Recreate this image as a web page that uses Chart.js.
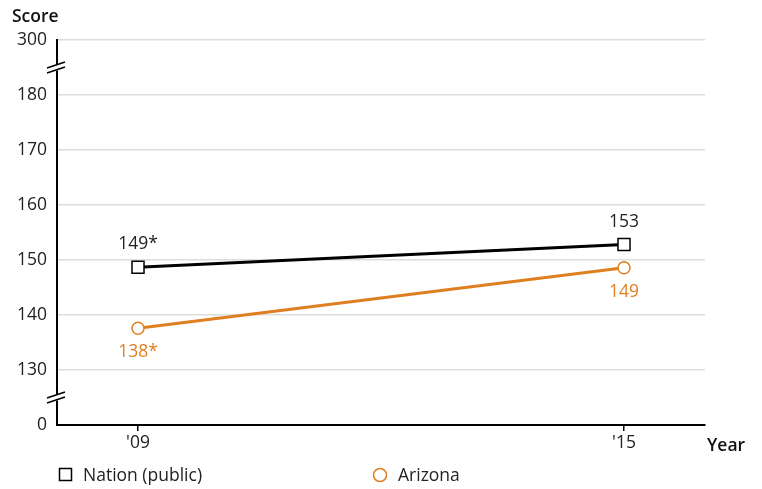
<!DOCTYPE html>
<html>
<head>
<meta charset="utf-8">
<script src="https://cdn.jsdelivr.net/npm/chart.js@4"></script>
<style>
  html, body { margin: 0; padding: 0; background: #fff; }
  canvas { display: block; }
</style>
</head>
<body>
<canvas id="chart" width="762" height="489"></canvas>
<script>
// data
const years = [2009, 2015];
const yearLabels = ["'09", "'15"];
const nationScores = [148.7, 152.8];
const nationLabels = ["149*", "153"];
const arizonaScores = [137.6, 148.6];
const arizonaLabels = ["138*", "149"];
const scoreTicks = [0, 130, 140, 150, 160, 170, 180, 300];

const ORANGE = "#E07F1F";
const TEXT = "#222222";
const FONT = "'Open Sans', sans-serif";
const SIZE = 17.5;

// broken axis: 0 sits one step below 130, 300 one step above 180
function mapScore(v) {
  if (v >= 300) return 190;
  if (v <= 0) return 120;
  return v;
}
const mappedTicks = scoreTicks.map(mapScore);

function toPoints(values) {
  return values.map((v, i) => ({ x: years[i], y: mapScore(v) }));
}

const extras = {
  id: "extras",
  afterDraw(chart) {
    const ctx = chart.ctx;
    const xs = chart.scales.x;
    const ys = chart.scales.y;
    const left = chart.chartArea.left;

    // axis break marks
    [185, 125].forEach(v => {
      const y = ys.getPixelForValue(v);
      ctx.save();
      ctx.fillStyle = "#fff";
      ctx.fillRect(left - 3, y - 3, 6, 6);
      ctx.strokeStyle = "#000";
      ctx.lineWidth = 1.5;
      [-2.5, 2.5].forEach(d => {
        ctx.beginPath();
        ctx.moveTo(left - 10, y + 3 + d);
        ctx.lineTo(left + 8, y - 3 + d);
        ctx.stroke();
      });
      ctx.restore();
    });

    // value labels
    ctx.save();
    ctx.font = SIZE + "px " + FONT;
    ctx.textAlign = "center";
    ctx.textBaseline = "middle";
    years.forEach((yr, i) => {
      const x = xs.getPixelForValue(yr);
      ctx.fillStyle = TEXT;
      ctx.fillText(nationLabels[i], x, ys.getPixelForValue(mapScore(nationScores[i])) - 23);
      ctx.fillStyle = ORANGE;
      ctx.fillText(arizonaLabels[i], x, ys.getPixelForValue(mapScore(arizonaScores[i])) + 24);
    });

    // axis titles
    ctx.fillStyle = "#111";
    ctx.font = "600 " + SIZE + "px " + FONT;
    ctx.textAlign = "left";
    ctx.fillText("Score", 12, 17);
    ctx.fillText("Year", 707, 446);

    // legend
    ctx.font = SIZE + "px " + FONT;
    ctx.fillStyle = TEXT;
    ctx.strokeStyle = "#000";
    ctx.lineWidth = 1.5;
    ctx.strokeRect(59.5, 468.5, 12, 12);
    ctx.fillText("Nation (public)", 83, 476);
    ctx.strokeStyle = ORANGE;
    ctx.beginPath();
    ctx.arc(380, 475, 6.5, 0, Math.PI * 2);
    ctx.stroke();
    ctx.fillText("Arizona", 398, 476);
    ctx.restore();
  }
};

new Chart(document.getElementById("chart"), {
  type: "line",
  data: {
    datasets: [
      {
        label: "Nation (public)",
        data: toPoints(nationScores),
        borderColor: "#000",
        borderWidth: 3,
        pointStyle: "rect",
        pointRadius: 8.5,
        pointBorderWidth: 1.5,
        pointBackgroundColor: "#fff",
        pointBorderColor: "#000"
      },
      {
        label: "Arizona",
        data: toPoints(arizonaScores),
        borderColor: ORANGE,
        borderWidth: 3,
        pointStyle: "circle",
        pointRadius: 6,
        pointBorderWidth: 1.5,
        pointBackgroundColor: "#fff",
        pointBorderColor: ORANGE
      }
    ]
  },
  options: {
    responsive: false,
    animation: false,
    layout: { padding: { left: 0, top: 40, right: 57, bottom: 0 } },
    plugins: { legend: { display: false }, tooltip: { enabled: false } },
    scales: {
      x: {
        type: "linear",
        min: 2008,
        max: 2016,
        afterBuildTicks: s => { s.ticks = years.map(v => ({ value: v })); },
        afterFit: s => { s.height = 64; },
        ticks: {
          callback: v => yearLabels[years.indexOf(v)],
          color: TEXT,
          font: { family: FONT, size: SIZE },
          padding: 2,
          maxRotation: 0
        },
        grid: { drawOnChartArea: false, drawTicks: true, tickLength: 6, color: "#000", lineWidth: 1.5 },
        border: { display: true, color: "#000", width: 2 }
      },
      y: {
        type: "linear",
        min: 120,
        max: 190,
        afterBuildTicks: s => { s.ticks = mappedTicks.map(v => ({ value: v })); },
        afterFit: s => { s.width = 57; },
        ticks: {
          callback: v => String(scoreTicks[mappedTicks.indexOf(v)]),
          color: TEXT,
          font: { family: FONT, size: SIZE },
          padding: 10
        },
        grid: {
          drawTicks: false,
          color: c => (c.tick && c.tick.value === 120 ? "rgba(0,0,0,0)" : "#dddddd"),
          lineWidth: 1.5
        },
        border: { display: true, color: "#000", width: 2 }
      }
    }
  },
  plugins: [extras]
});
</script>
</body>
</html>
